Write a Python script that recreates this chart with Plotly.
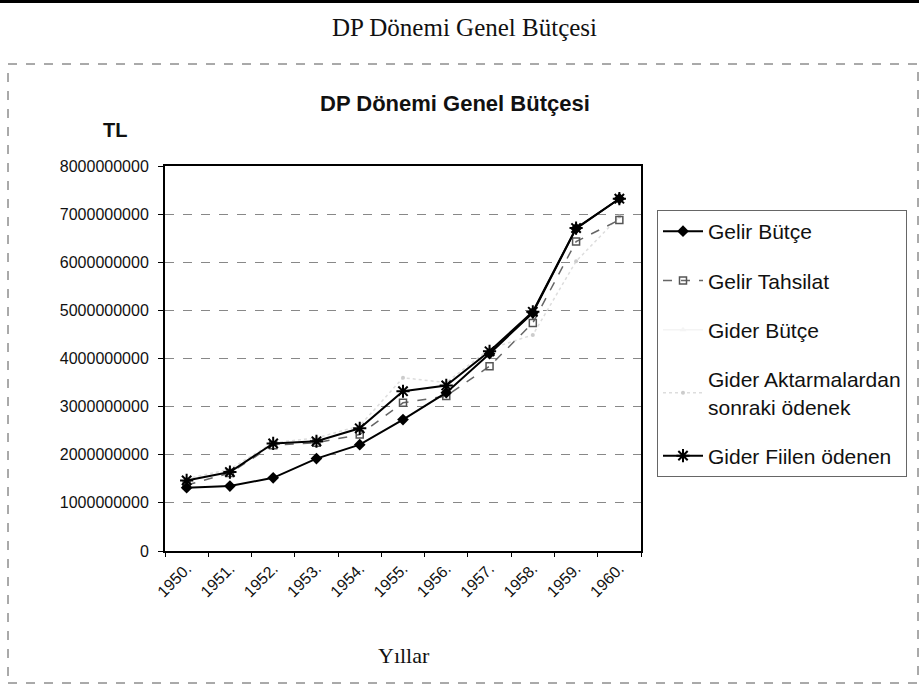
import plotly.graph_objects as go

years = ["1950.", "1951.", "1952.", "1953.", "1954.", "1955.", "1956.", "1957.", "1958.", "1959.", "1960."]

gelir_butce = [1.315e9, 1.35e9, 1.52e9, 1.92e9, 2.21e9, 2.73e9, 3.29e9, 4.10e9, 4.95e9, 6.70e9, 7.32e9]
gelir_tahsilat = [1.37e9, 1.62e9, 2.20e9, 2.25e9, 2.42e9, 3.08e9, 3.22e9, 3.84e9, 4.74e9, 6.43e9, 6.88e9]
gider_butce = [1.315e9, 1.35e9, 1.52e9, 1.92e9, 2.21e9, 2.73e9, 3.29e9, 4.10e9, 4.95e9, 6.70e9, 7.32e9]
gider_aktarma = [1.50e9, 1.70e9, 2.25e9, 2.35e9, 2.60e9, 3.60e9, 3.50e9, 4.20e9, 4.49e9, 6.02e9, 6.95e9]
gider_fiilen = [1.467e9, 1.64e9, 2.235e9, 2.28e9, 2.55e9, 3.32e9, 3.44e9, 4.15e9, 4.97e9, 6.71e9, 7.32e9]

y_ticks = [0, 1e9, 2e9, 3e9, 4e9, 5e9, 6e9, 7e9, 8e9]

W, H = 919, 688
L, R, T, B = 165, 641, 166, 551  # plot area in pixels


def px(x):
    return (x - L) / (R - L)


def py(y):
    return (B - y) / (B - T)


SANS = "Liberation Sans, Arial, sans-serif"
SERIF = "Liberation Serif, Times New Roman, serif"

fig = go.Figure()

# faint series drawn first (underneath), legend order set by legendrank
fig.add_trace(go.Scatter(
    x=years, y=gider_butce, name="Gider Bütçe", mode="lines+markers",
    line=dict(color="#f4f4f4", width=1.5),
    marker=dict(symbol="triangle-up", size=6, color="#f4f4f4"),
    legendgroup="c", legendrank=3))
fig.add_trace(go.Scatter(
    x=years, y=gider_aktarma, name="Gider Aktarmalardan<br>sonraki ödenek", mode="lines+markers",
    line=dict(color="#dddddd", width=1.5, dash="dot"),
    marker=dict(symbol="circle", size=4, color="#cccccc"),
    legendgroup="d", legendrank=4))
fig.add_trace(go.Scatter(
    x=years, y=gelir_tahsilat, name="Gelir Tahsilat", mode="lines+markers",
    line=dict(color="#666666", width=1.5, dash="dash"),
    marker=dict(symbol="square-open", size=7, color="#555555", line=dict(width=1.5)),
    legendgroup="b", legendrank=2))
fig.add_trace(go.Scatter(
    x=years, y=gelir_butce, name="Gelir Bütçe", mode="lines+markers",
    line=dict(color="black", width=2),
    marker=dict(symbol="diamond", size=9, color="black"),
    legendgroup="a", legendrank=1))
fig.add_trace(go.Scatter(
    x=years, y=gider_fiilen, name="Gider Fiilen ödenen", mode="lines+markers",
    line=dict(color="black", width=2),
    marker=dict(symbol="asterisk-open", size=11, color="black", line=dict(width=2, color="black")),
    legendgroup="e", legendrank=5))

shapes = [
    dict(type="rect", xref="paper", yref="paper",
         x0=px(8), x1=px(918), y0=py(683), y1=py(64),
         line=dict(color="#555555", width=1, dash="dash"), layer="below"),
    dict(type="line", xref="paper", yref="paper",
         x0=px(0), x1=px(919), y0=py(1.5), y1=py(1.5),
         line=dict(color="black", width=3)),
]

annotations = [
    dict(text="DP Dönemi Genel Bütçesi", xref="paper", yref="paper",
         x=px(464), y=py(27), xanchor="center", yanchor="middle", showarrow=False,
         font=dict(family=SERIF, size=25, color="#111111")),
    dict(text="<b>DP Dönemi Genel Bütçesi</b>", xref="paper", yref="paper",
         x=px(455), y=py(103), xanchor="center", yanchor="middle", showarrow=False,
         font=dict(family=SANS, size=22, color="#111111")),
    dict(text="<b>TL</b>", xref="paper", yref="paper",
         x=px(115), y=py(130), xanchor="center", yanchor="middle", showarrow=False,
         font=dict(family=SANS, size=20, color="#111111")),
    dict(text="Yıllar", xref="paper", yref="paper",
         x=px(404), y=py(655), xanchor="center", yanchor="middle", showarrow=False,
         font=dict(family=SERIF, size=22, color="#111111")),
]

fig.update_layout(
    width=W, height=H,
    margin=dict(l=L, r=W - R, t=T, b=H - B, pad=0),
    paper_bgcolor="white", plot_bgcolor="white",
    font=dict(family=SANS, color="#111111"),
    showlegend=True,
    legend=dict(
        x=px(657), y=py(210), xanchor="left", yanchor="top",
        font=dict(family=SANS, size=21, color="#111111"),
        bgcolor="white", bordercolor="#666666", borderwidth=1,
        tracegroupgap=19, itemwidth=40, traceorder="grouped",
    ),
    shapes=shapes, annotations=annotations,
)

fig.update_xaxes(
    type="category", range=[-0.5, 10.5],
    showline=True, linecolor="black", linewidth=2, mirror=True,
    showgrid=False, ticks="outside", tickson="boundaries", ticklen=4,
    tickcolor="black", tickangle=-45,
    tickfont=dict(family=SANS, size=16, color="#111111"),
)
fig.update_yaxes(
    range=[0, 8e9], tickvals=y_ticks, tickformat="d",
    showline=True, linecolor="black", linewidth=2, mirror=True,
    showgrid=True, gridcolor="#888888", gridwidth=1, griddash="dash",
    zeroline=False, ticks="outside", ticklen=5, tickcolor="black",
    ticklabelstandoff=6,
    tickfont=dict(family=SANS, size=16, color="#111111"),
)

fig.write_html("out.html", config={"displayModeBar": False},
               post_script="document.body.style.margin='0';")
